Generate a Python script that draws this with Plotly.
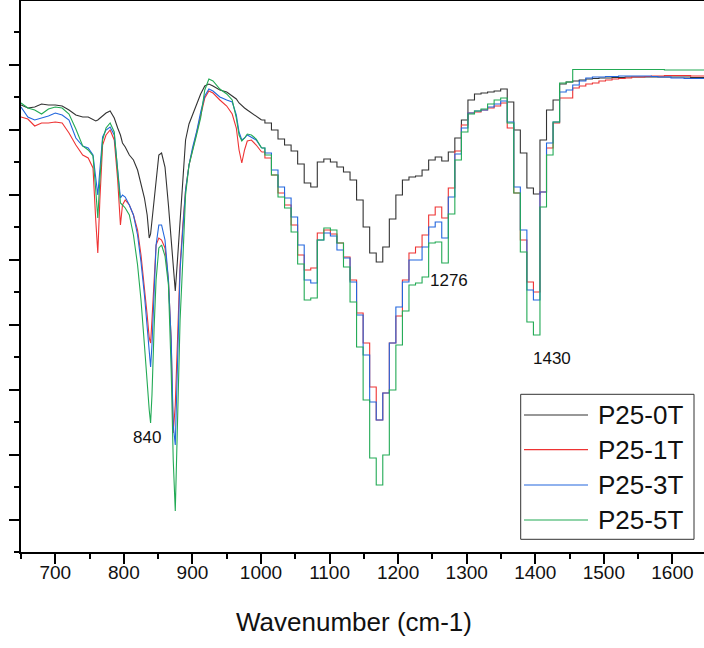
import plotly.graph_objects as go

# ---------------- data ----------------
series_names = ["P25-0T", "P25-1T", "P25-3T", "P25-5T"]
series_colors = ["#333333", "#ee3333", "#2266dd", "#22aa55"]

# smooth (high-resolution) part of the spectra, 650-1001 cm-1
wn_smooth = [650, 660, 670, 680, 690, 700, 710, 720, 730, 740,
             748, 755, 759, 762, 765, 769, 774, 780, 786, 791,
             795, 798, 802, 808, 814, 820, 825, 830, 834, 837,
             839, 841, 844, 847, 851, 855, 860, 865, 869, 872,
             875, 878, 882, 886, 890, 895, 900, 906, 912, 918,
             924, 930, 940, 950, 958, 964, 968, 972, 976, 980,
             986, 993, 1000.9]

t0_smooth = [447, 444, 445, 448, 447, 447, 446, 442, 437, 435,
             435, 432, 431, 432, 434, 436, 439, 441, 434, 424,
             417, 409, 405, 397, 392, 382, 369, 354, 337, 314,
             318, 332, 355, 375, 397, 399, 385, 347, 312, 282,
             261, 290, 330, 374, 412, 428, 437, 446, 458, 466,
             468, 466, 462, 460, 456, 453, 449, 446, 444, 442,
             439, 436, 432]
t1_smooth = [435, 433, 426, 429, 429, 430, 429, 419, 407, 397,
             394, 384, 332, 299, 352, 407, 417, 422, 412, 372,
             327, 347, 352, 347, 337, 322, 297, 267, 237, 214,
             209, 232, 277, 307, 314, 312, 304, 272, 212, 119,
             147, 212, 287, 327, 362, 387, 402, 417, 437, 454,
             461, 459, 452, 446, 438, 424, 402, 389, 402, 411,
             412, 407, 400]
t3_smooth = [445, 435, 432, 434, 436, 439, 437, 432, 414, 406,
             404, 397, 372, 357, 382, 415, 422, 425, 417, 384,
             354, 357, 355, 347, 337, 317, 290, 257, 222, 197,
             185, 207, 262, 307, 327, 327, 312, 272, 212, 127,
             107, 192, 282, 322, 362, 387, 404, 420, 440, 456,
             463, 461, 455, 452, 450, 437, 420, 412, 414, 417,
             415, 412, 404]
t5_smooth = [449, 444, 442, 438, 443, 445, 444, 438, 423, 406,
             402, 396, 362, 334, 372, 412, 424, 429, 420, 382,
             349, 347, 344, 337, 317, 287, 252, 207, 167, 142,
             129, 157, 222, 272, 304, 307, 296, 267, 182, 92,
             41, 132, 232, 292, 357, 387, 402, 417, 434, 462,
             473, 471, 463, 458, 452, 434, 417, 411, 414, 418,
             417, 413, 404]

# coarse (stepped) part of the spectra, 1001-1650 cm-1
wn_step = [1000.9, 1010.5, 1020.0, 1029.6, 1039.1, 1048.7, 1058.2, 1067.8, 1077.3, 1086.9,
           1096.4, 1106.0, 1115.5, 1125.1, 1134.6, 1144.2, 1153.7, 1163.3, 1172.8, 1182.4,
           1191.9, 1201.5, 1211.0, 1220.6, 1230.1, 1239.7, 1249.3, 1258.8, 1268.4, 1277.9,
           1287.5, 1297.0, 1306.6, 1316.1, 1325.7, 1335.2, 1344.8, 1354.3, 1363.9, 1373.4,
           1383.0, 1392.5, 1402.1, 1411.6, 1421.2, 1430.7, 1440.3, 1449.8, 1459.4, 1468.9,
           1478.5, 1488.1, 1497.6, 1507.2, 1516.7, 1526.3, 1535.8, 1545.4, 1554.9, 1564.5,
           1574.0, 1583.6, 1593.1, 1602.7, 1612.2, 1621.8, 1631.3, 1640.9, 1650.4]

t0_step = [432, 429, 422, 413, 407, 401, 388, 369, 365, 390,
           393, 390, 385, 380, 372, 352, 325, 299, 290, 305,
           333, 357, 372, 375, 376, 382, 392, 395, 391, 400,
           414, 432, 452, 458, 459, 460, 461, 463, 450, 422,
           399, 364, 358, 412, 442, 452, 468, 470, 471, 472,
           473, 473.5, 474, 474, 474.5, 474.5, 475, 475, 475, 475,
           475, 475, 475, 475, 475, 475, 474.5, 474.5, 474.5]
t1_step = [400, 394, 377, 359, 347, 327, 297, 282, 284, 319,
           322, 318, 309, 295, 272, 239, 209, 165, 132, 159,
           209, 236, 272, 299, 305, 317, 337, 345, 334, 364,
           401, 427, 439, 440, 442, 444, 446, 449, 424, 359,
           312, 270, 260, 360, 404, 429, 454, 454, 464, 466,
           468, 469, 471, 472, 473, 473.5, 474, 475, 475, 475.5,
           476, 476, 476.5, 476.5, 476.5, 476.5, 476, 476, 476]
t3_step = [404, 399, 382, 365, 354, 335, 307, 272, 269, 312,
           319, 316, 302, 294, 270, 237, 197, 150, 132, 159,
           209, 245, 270, 292, 292, 305, 325, 330, 314, 355,
           398, 424, 439, 441, 442, 445, 448, 451, 430, 365,
           322, 262, 252, 360, 409, 430, 460, 462, 467, 471,
           474, 475, 475, 475.5, 475.5, 476, 476, 476, 476, 476,
           475.5, 475, 475, 474, 474, 473.5, 473.5, 473.5, 473.5]
t5_step = [404, 397, 377, 355, 344, 320, 288, 252, 254, 312,
           324, 322, 309, 285, 250, 205, 152, 94, 67, 97,
           162, 207, 241, 267, 269, 275, 309, 310, 289, 338,
           392, 420, 438, 441, 443, 448, 452, 454, 429, 359,
           300, 230, 217, 345, 397, 430, 469, 470, 482.5, 482.5,
           482.5, 482.5, 482.5, 482.5, 482.5, 482.5, 482.5, 482.5, 482.5, 482.5,
           482.5, 482.5, 482, 482, 482, 482, 482, 482, 482]

smooth_series = [t0_smooth, t1_smooth, t3_smooth, t5_smooth]
step_series = [t0_step, t1_step, t3_step, t5_step]

peak_labels = ["840", "1276", "1430"]
peak_label_wn = [833.8, 1274.2, 1424.4]
peak_label_t = [115, 272, 194]

x_ticks = [700, 800, 900, 1000, 1100, 1200, 1300, 1400, 1500, 1600]

# ---------------- figure ----------------
W, H = 704, 648
ML, MR, MT, MB = 21, 0, 1, 96
PW, PH = W - ML - MR, H - MT - MB
FONT = "Arial, Liberation Sans, sans-serif"


def px_x(p):
    return (p - ML) / PW


def px_y(p):
    return (H - MB - p) / PH


fig = go.Figure()
for name, color, ys, yst in zip(series_names, series_colors, smooth_series, step_series):
    fig.add_trace(go.Scatter(x=wn_smooth, y=ys, mode="lines", name=name,
                             line=dict(color=color, width=1.1), showlegend=False,
                             legendgroup=name))
    fig.add_trace(go.Scatter(x=wn_step, y=yst, mode="lines", name=name,
                             line=dict(color=color, width=1.1, shape="hvh"),
                             showlegend=False, legendgroup=name))

annotations = []
for txt, xw, yt in zip(peak_labels, peak_label_wn, peak_label_t):
    annotations.append(dict(x=xw, y=yt, xref="x", yref="y", text=txt, showarrow=False,
                            font=dict(family=FONT, size=17, color="#111111"),
                            xanchor="center", yanchor="middle"))

# legend drawn as a framed box
shapes = [dict(type="rect", xref="paper", yref="paper",
               x0=px_x(520.7), x1=px_x(694), y0=px_y(539.3), y1=px_y(394.3),
               line=dict(color="#333333", width=1), fillcolor="white")]
leg_y = [415, 449.7, 485, 520]
for name, color, ly in zip(series_names, series_colors, leg_y):
    shapes.append(dict(type="line", xref="paper", yref="paper",
                       x0=px_x(524), x1=px_x(588), y0=px_y(ly), y1=px_y(ly),
                       line=dict(color=color, width=1.2)))
    annotations.append(dict(x=px_x(596), y=px_y(ly), xref="paper", yref="paper",
                            text=name, showarrow=False, xanchor="left", yanchor="middle",
                            font=dict(family=FONT, size=26, color="#111111")))

# x-axis title placed under the axis
annotations.append(dict(x=px_x(354), y=px_y(622), xref="paper", yref="paper",
                        text="Wavenumber (cm-1)", showarrow=False,
                        xanchor="center", yanchor="middle",
                        font=dict(family=FONT, size=26, color="#111111")))

fig.update_layout(
    width=W, height=H,
    margin=dict(l=ML, r=MR, t=MT, b=MB, pad=0, autoexpand=False),
    paper_bgcolor="white", plot_bgcolor="white",
    showlegend=False,
    font=dict(family=FONT, color="#111111"),
    annotations=annotations,
    shapes=shapes,
)
fig.update_xaxes(
    range=[650, 650 + PW / 0.6857], automargin=False,
    tickmode="array", tickvals=x_ticks, ticktext=[str(v) for v in x_ticks],
    ticks="outside", ticklen=10, tickwidth=1.5, tickcolor="black",
    ticklabelstandoff=-8,
    showline=True, linecolor="black", linewidth=2, mirror=True,
    showgrid=False, zeroline=False,
    tickfont=dict(family=FONT, size=19, color="#111111"),
    minor=dict(ticks="outside", ticklen=5, tickwidth=1.5, tickcolor="black", dtick=50, tick0=650),
)
fig.update_yaxes(
    range=[0, 551], automargin=False,
    tick0=32.5, dtick=65, showticklabels=False,
    ticks="outside", ticklen=10, tickwidth=1.5, tickcolor="black",
    showline=True, linecolor="black", linewidth=2,
    showgrid=False, zeroline=False,
    minor=dict(ticks="outside", ticklen=5, tickwidth=1.5, tickcolor="black", dtick=32.5, tick0=0),
)

fig.write_html("out.html",
               config={"displayModeBar": False},
               post_script="document.body.style.margin='0';document.body.style.overflow='hidden';")
